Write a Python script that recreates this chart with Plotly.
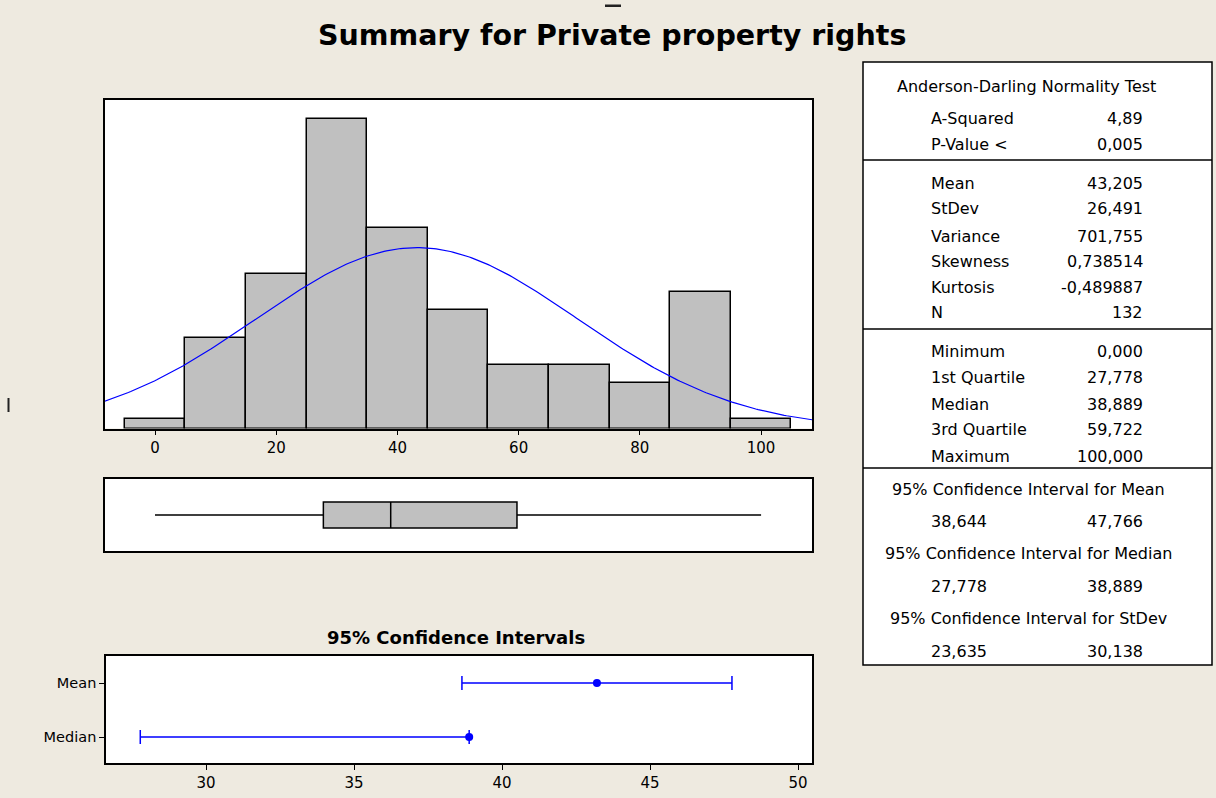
import numpy as np
import plotly.graph_objects as go

W, H = 1216, 798
BG = "#EEEAE0"
FONT = "DejaVu Sans"

# ---------------- data ----------------
bin_centers = [0, 10, 20, 30, 40, 50, 60, 70, 80, 90, 100]
bin_counts = [1, 10, 17, 34, 22, 13, 7, 7, 5, 15, 1]
bin_width = 10

mean_val = 43.205
stdev_val = 26.491
n_val = 132
minimum = 0.0
q1 = 27.778
median_val = 38.889
q3 = 59.722
maximum = 100.0

ci_labels = ["Median", "Mean"]
ci_points = [38.889, 43.205]
ci_lower = [27.778, 38.644]
ci_upper = [38.889, 47.766]

stat_rows = [
    ("A-Squared", "4,89"),
    ("P-Value <", "0,005"),
    ("Mean", "43,205"),
    ("StDev", "26,491"),
    ("Variance", "701,755"),
    ("Skewness", "0,738514"),
    ("Kurtosis", "-0,489887"),
    ("N", "132"),
    ("Minimum", "0,000"),
    ("1st Quartile", "27,778"),
    ("Median", "38,889"),
    ("3rd Quartile", "59,722"),
    ("Maximum", "100,000"),
]
stat_row_y = [118, 145, 183, 209, 236, 261, 287, 313, 351, 378, 404, 429, 456]
ci_headers = [
    ("95% Confidence Interval for Mean", ("38,644", "47,766")),
    ("95% Confidence Interval for Median", ("27,778", "38,889")),
    ("95% Confidence Interval for StDev", ("23,635", "30,138")),
]
ci_header_y = [489, 553, 618]
ci_value_y = [521, 586, 651]


def px(x):
    return x / W


def py(y):
    return 1 - y / H


fig = go.Figure()

# ---------------- histogram ----------------
fig.add_trace(go.Bar(
    x=bin_centers, y=bin_counts, width=bin_width,
    marker=dict(color="#C0C0C0", line=dict(color="black", width=1.5)),
    xaxis="x", yaxis="y", showlegend=False, hoverinfo="x+y",
))
xs = np.linspace(-8.3, 108.5, 300)
pdf = n_val * bin_width * np.exp(-0.5 * ((xs - mean_val) / stdev_val) ** 2) / (stdev_val * np.sqrt(2 * np.pi))
fig.add_trace(go.Scatter(
    x=xs, y=pdf, mode="lines", line=dict(color="#0000FF", width=1.2),
    xaxis="x", yaxis="y", showlegend=False, hoverinfo="skip",
))

# ---------------- box plot ----------------
fig.add_trace(go.Box(
    q1=[q1], median=[median_val], q3=[q3], lowerfence=[minimum], upperfence=[maximum],
    y=[0], orientation="h", width=0.72, whiskerwidth=0,
    fillcolor="#C0C0C0", line=dict(color="black", width=1.5),
    xaxis="x2", yaxis="y2", showlegend=False, boxpoints=False,
))

# ---------------- CI plot ----------------
fig.add_trace(go.Scatter(
    x=ci_points, y=[0, 1], mode="markers",
    marker=dict(color="#0000FF", size=8),
    error_x=dict(type="data", symmetric=False,
                 array=[u - p for u, p in zip(ci_upper, ci_points)],
                 arrayminus=[p - l for l, p in zip(ci_lower, ci_points)],
                 color="#0000FF", thickness=1.5, width=7),
    xaxis="x3", yaxis="y3", showlegend=False,
))

axis_common = dict(showline=True, linecolor="black", linewidth=1.5, mirror=True,
                   showgrid=False, zeroline=False)

fig.update_layout(
    width=W, height=H, margin=dict(l=0, r=0, t=0, b=0),
    paper_bgcolor=BG, plot_bgcolor="white",
    font=dict(family=FONT, size=13, color="black"),
    bargap=0,
    xaxis=dict(domain=[px(105), px(812)], anchor="y", range=[-8.25, 108.4],
               tickvals=[0, 20, 40, 60, 80, 100], ticks="outside", ticklen=5,
               tickcolor="black", tickfont=dict(size=15), **axis_common),
    yaxis=dict(domain=[py(428.5), py(100)], anchor="x", range=[0, 36.1],
               showticklabels=False, ticks="", **axis_common),
    xaxis2=dict(domain=[px(105), px(812)], anchor="y2", range=[-8.25, 108.4],
                showticklabels=False, ticks="", **axis_common),
    yaxis2=dict(domain=[py(551), py(479)], anchor="x2", range=[-1, 1],
                showticklabels=False, ticks="", **axis_common),
    xaxis3=dict(domain=[px(106), px(812)], anchor="y3", range=[26.62, 50.47],
                tickvals=[30, 35, 40, 45, 50], ticks="outside", ticklen=5,
                tickcolor="black", tickfont=dict(size=15), **axis_common),
    yaxis3=dict(domain=[py(763), py(656)], anchor="x3", range=[-0.48, 1.5],
                tickvals=[0, 1], ticktext=ci_labels, ticks="outside", ticklen=5,
                tickcolor="black", tickfont=dict(size=14.5), **axis_common),
)

annotations = []
shapes = []

# Title
annotations.append(dict(text="<b>Summary for Private property rights</b>", x=px(612), y=py(35),
                        xref="paper", yref="paper", showarrow=False,
                        font=dict(size=28.5, family=FONT), xanchor="center", yanchor="middle"))
annotations.append(dict(text="<b>95% Confidence Intervals</b>", x=px(456), y=py(637),
                        xref="paper", yref="paper", showarrow=False,
                        font=dict(size=18, family=FONT), xanchor="center", yanchor="middle"))

# Stats table
TL, TR, TT, TB = 863, 1212, 62, 665
shapes.append(dict(type="rect", xref="paper", yref="paper", x0=px(TL), x1=px(TR), y0=py(TB), y1=py(TT),
                   line=dict(color="black", width=1.5), fillcolor="white", layer="below"))
for sy in [160, 329, 468]:
    shapes.append(dict(type="line", xref="paper", yref="paper", x0=px(TL), x1=px(TR), y0=py(sy), y1=py(sy),
                       line=dict(color="black", width=1.5)))

TF = dict(size=16, family=FONT, color="black")
annotations.append(dict(text="Anderson-Darling Normality Test", x=px(1026), y=py(86), xref="paper", yref="paper",
                        showarrow=False, font=TF, xanchor="center", yanchor="middle"))
for (lab, val), yy in zip(stat_rows, stat_row_y):
    annotations.append(dict(text=lab, x=px(929), y=py(yy), xref="paper", yref="paper", showarrow=False,
                            font=TF, xanchor="left", yanchor="middle"))
    annotations.append(dict(text=val, x=px(1145), y=py(yy), xref="paper", yref="paper", showarrow=False,
                            font=TF, xanchor="right", yanchor="middle"))
for (hdr, (lo, hi)), hy, vy in zip(ci_headers, ci_header_y, ci_value_y):
    annotations.append(dict(text=hdr, x=px(1028), y=py(hy), xref="paper", yref="paper", showarrow=False,
                            font=TF, xanchor="center", yanchor="middle"))
    annotations.append(dict(text=lo, x=px(929), y=py(vy), xref="paper", yref="paper", showarrow=False,
                            font=TF, xanchor="left", yanchor="middle"))
    annotations.append(dict(text=hi, x=px(1145), y=py(vy), xref="paper", yref="paper", showarrow=False,
                            font=TF, xanchor="right", yanchor="middle"))

# small artifacts from the source screenshot
shapes.append(dict(type="rect", xref="paper", yref="paper", x0=px(605), x1=px(621), y0=py(7), y1=py(4.5),
                   line=dict(width=0), fillcolor="#222222"))
shapes.append(dict(type="rect", xref="paper", yref="paper", x0=px(7.5), x1=px(9.5), y0=py(412), y1=py(398),
                   line=dict(width=0), fillcolor="#222222"))

fig.update_layout(annotations=annotations, shapes=shapes)
fig.write_html("out.html", config={"displayModeBar": False},
               post_script="document.body.style.margin='0';document.body.style.background='" + BG + "';")
